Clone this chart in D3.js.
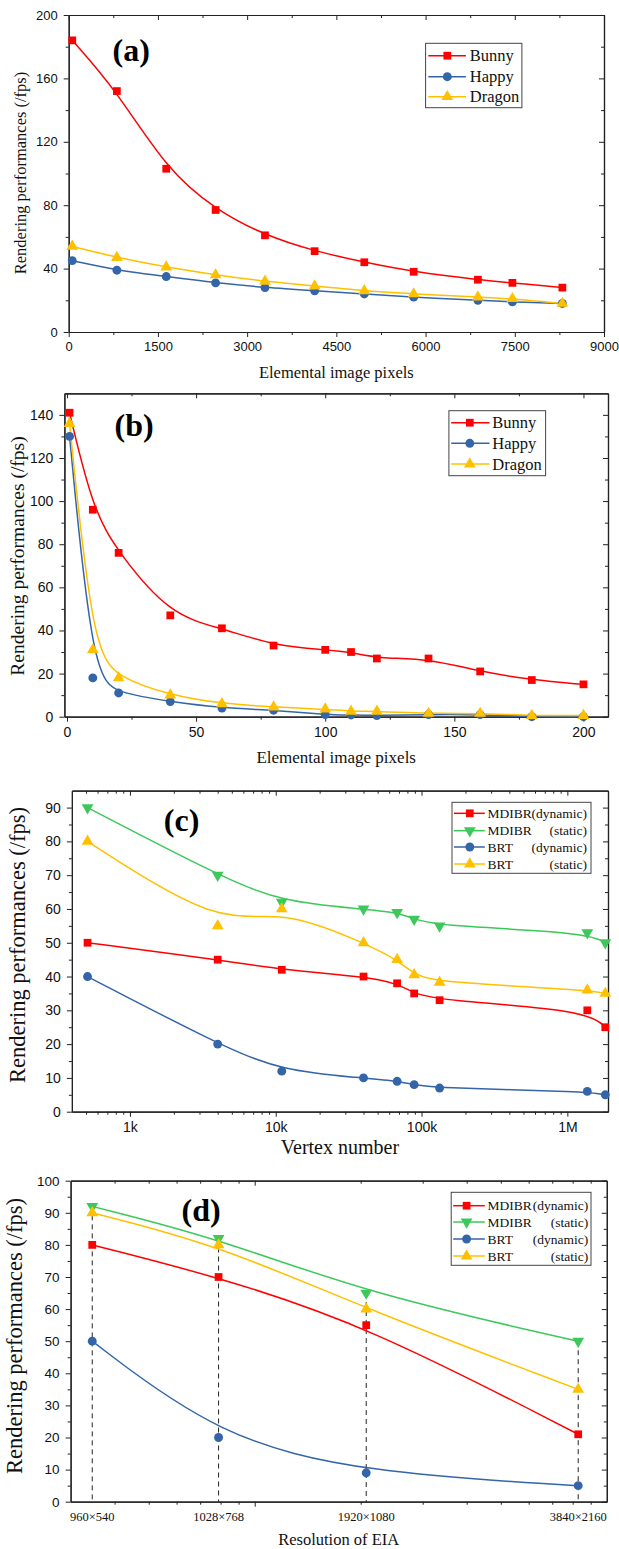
<!DOCTYPE html>
<html>
<head>
<meta charset="utf-8">
<script src="https://cdn.jsdelivr.net/npm/d3@7"></script>
<style>
  body { margin: 0; background: #fff; }
  svg { display: block; }
</style>
</head>
<body>
<svg id="chart" width="619" height="1549"></svg>
<script>
// ---------- data ----------
// (a) elemental image pixels
const pixelsA = [60, 810, 1640, 2470, 3300, 4135, 4970, 5800, 6880, 7460, 8300];
const bunnyA  = [184, 152, 103, 77, 61, 51, 44, 38, 33, 31, 28];
const happyA  = [45, 39, 35, 31, 28, 26, 24, 22, 20, 19, 18];
const dragonA = [54, 47, 41, 36, 32, 29, 26, 24, 22, 21, 18];

// (b) elemental image pixels
const pixelsB = [1, 10, 20, 40, 60, 80, 100, 110, 120, 140, 160, 180, 200];
const bunnyB  = [141, 96, 76, 47, 41, 33, 31, 30, 27, 27, 21, 17, 15];
const happyB  = [130, 18, 11, 7, 4, 3, 1, 0.8, 0.5, 1, 1, 0, 0];
const dragonB = [136, 31, 18, 10, 6, 4.5, 3.5, 2.5, 2.5, 1.5, 1.5, 0.5, 0.5];

// (c) vertex number
const vertexC       = [512, 4000, 11000, 40000, 68000, 89000, 133000, 1370000, 1820000];
const mdibrDynC     = [50, 45, 42, 40, 38, 35, 33, 30, 25];
const mdibrStaticC  = [90, 70, 62, 60, 59, 57, 55, 53, 50];
const brtDynC       = [40, 20, 12, 10, 9, 8, 7, 6, 5];
const brtStaticC    = [80, 55, 60, 50, 45, 40.5, 38.3, 36, 35];

// (d) resolution of EIA (pixel count)
const resPixelsD    = [345600, 789504, 2073600, 8294400];
const resLabelsD    = ["960×540", "1028×768", "1920×1080", "3840×2160"];
const mdibrDynD     = [80, 70, 55, 21];
const mdibrStaticD  = [92, 82, 65, 50];
const brtDynD       = [50, 20, 9, 5];
const brtStaticD    = [90, 80, 60, 35];

const modelNames  = ["Bunny", "Happy", "Dragon"];
const methodNames = [["MDIBR", "(dynamic)"], ["MDIBR", "(static)"], ["BRT", "(dynamic)"], ["BRT", "(static)"]];

const COLORS = { red: "#ff0000", blue: "#3465a8", yellow: "#ffc000", green: "#3cc85a" };
const SERIF = "'Liberation Serif','Times New Roman',serif";
const SANS = "'Liberation Sans',Arial,sans-serif";

const svg = d3.select("#chart");

const triDown = {
  draw(ctx, size) {
    const s = Math.sqrt(size / 0.433), h = s * Math.sqrt(3) / 2;
    ctx.moveTo(-s / 2, -h / 3);
    ctx.lineTo(s / 2, -h / 3);
    ctx.lineTo(0, 2 * h / 3);
    ctx.closePath();
  }
};
const SYMBOLS = {
  square: [d3.symbolSquare, 60],
  circle: [d3.symbolCircle, 62],
  up: [d3.symbolTriangle, 60],
  down: [triDown, 60]
};

function logMinor(lo, hi) {
  const out = [];
  for (let e = Math.floor(Math.log10(lo)); e <= Math.ceil(Math.log10(hi)); e++) {
    for (let k = 2; k <= 9; k++) {
      const v = k * Math.pow(10, e);
      if (v > lo * 1.01 && v < hi * 0.99) out.push(v);
    }
  }
  return out;
}

function drawPanel(p) {
  const g = svg.append("g");
  const x = p.x.range([p.l, p.r]);
  const y = d3.scaleLinear().domain(p.yDomain).range([p.b, p.t]);

  const addAxis = (fn, scale, vals, size, fmt, tr, pad) => {
    const a = fn(scale).tickValues(vals).tickSizeInner(size).tickSizeOuter(0)
      .tickPadding(pad || 3).tickFormat(fmt || "");
    const ag = g.append("g").attr("transform", tr).call(a);
    ag.selectAll("path.domain").attr("stroke", "#222").attr("stroke-width", 1.2);
    ag.selectAll(".tick line").attr("stroke", "#222").attr("stroke-width", 1);
    ag.selectAll("text").attr("font-family", SANS).attr("font-size", p.tickFont).attr("fill", "#111");
    return ag;
  };

  // bottom / top
  addAxis(d3.axisBottom, x, p.xMajor, 5, p.xFmt, `translate(0,${p.b})`, 5);
  addAxis(d3.axisBottom, x, p.xMinor, 3, null, `translate(0,${p.b})`);
  addAxis(d3.axisTop, x, p.xMajor, -5, null, `translate(0,${p.t})`);
  addAxis(d3.axisTop, x, p.xMinor, -3, null, `translate(0,${p.t})`);
  // left / right
  addAxis(d3.axisLeft, y, p.yMajor, 5, d3.format("d"), `translate(${p.l},0)`, 6);
  addAxis(d3.axisLeft, y, p.yMinor, 3, null, `translate(${p.l},0)`);
  addAxis(d3.axisRight, y, p.yMajor, -5, null, `translate(${p.r},0)`);
  addAxis(d3.axisRight, y, p.yMinor, -3, null, `translate(${p.r},0)`);

  // custom category labels
  if (p.xLabels) {
    g.selectAll("text.cat").data(p.xs).enter().append("text")
      .attr("x", d => x(d)).attr("y", p.b + 19)
      .attr("text-anchor", "middle")
      .attr("font-family", SERIF).attr("font-size", 12.5).attr("fill", "#111")
      .text((d, i) => p.xLabels[i]);
  }

  // dashed guides
  if (p.guides) {
    p.xs.forEach((xv, i) => {
      const top = d3.max(p.series, s => s.values[i]);
      g.append("line")
        .attr("x1", x(xv)).attr("x2", x(xv))
        .attr("y1", y(top)).attr("y2", y(0))
        .attr("stroke", "#222").attr("stroke-width", 1).attr("stroke-dasharray", "5,4");
    });
  }

  const line = d3.line().x(d => x(d[0])).y(d => y(d[1])).curve(d3.curveBasis);
  p.series.forEach(s => {
    const pts = p.xs.map((xv, i) => [xv, s.values[i]]);
    g.append("path").attr("d", line(pts)).attr("fill", "none")
      .attr("stroke", s.color).attr("stroke-width", 1.5);
  });
  p.series.forEach(s => {
    const [type, size] = SYMBOLS[s.symbol];
    const sym = d3.symbol().type(type).size(size);
    g.selectAll(null).data(p.xs.map((xv, i) => [xv, s.values[i]])).enter().append("path")
      .attr("transform", d => `translate(${x(d[0])},${y(d[1])})`)
      .attr("d", sym).attr("fill", s.color);
  });

  // panel label
  g.append("text").attr("x", p.tag[1]).attr("y", p.tag[2])
    .attr("font-family", SERIF).attr("font-weight", "bold").attr("font-size", 32)
    .text(p.tag[0]);

  // axis titles
  g.append("text").attr("x", (p.l + p.r) / 2).attr("y", p.xTitle[1])
    .attr("text-anchor", "middle").attr("font-family", SERIF).attr("font-size", p.xTitle[2])
    .attr("fill", "#111").text(p.xTitle[0]);
  g.append("text")
    .attr("transform", `translate(${p.yTitle[1]},${p.yTitle[2]}) rotate(-90)`)
    .attr("text-anchor", "middle").attr("font-family", SERIF).attr("font-size", p.yTitle[3])
    .attr("fill", "#111").text(p.yTitle[0]);

  // legend
  const L = p.legend;
  const lg = g.append("g");
  lg.append("rect").attr("x", L.box[0]).attr("y", L.box[1])
    .attr("width", L.box[2] - L.box[0]).attr("height", L.box[3] - L.box[1])
    .attr("fill", "#fff").attr("stroke", "#444").attr("stroke-width", 1);
  p.series.forEach((s, i) => {
    const yy = L.rows[i];
    lg.append("line").attr("x1", L.line[0]).attr("x2", L.line[1]).attr("y1", yy).attr("y2", yy)
      .attr("stroke", s.color).attr("stroke-width", 1.5);
    const [type, size] = SYMBOLS[s.symbol];
    lg.append("path").attr("transform", `translate(${L.marker},${yy})`)
      .attr("d", d3.symbol().type(type).size(size)).attr("fill", s.color);
    const lbl = Array.isArray(s.name) ? s.name : [s.name];
    lg.append("text").attr("x", L.text).attr("y", yy).attr("dy", "0.35em")
      .attr("font-family", SERIF).attr("font-size", L.font).attr("fill", "#111").text(lbl[0]);
    if (lbl[1]) {
      lg.append("text").attr("x", L.textEnd).attr("y", yy).attr("dy", "0.35em")
        .attr("text-anchor", "end")
        .attr("font-family", SERIF).attr("font-size", L.font).attr("fill", "#111").text(lbl[1]);
    }
  });
}

// ---------- panel (a) ----------
drawPanel({
  l: 68.7, r: 604, t: 15, b: 332,
  x: d3.scaleLinear().domain([0, 9000]),
  xMajor: d3.range(0, 9001, 1500), xMinor: d3.range(750, 9000, 1500), xFmt: d3.format("d"),
  yDomain: [0, 200], yMajor: d3.range(0, 201, 40), yMinor: d3.range(20, 200, 40),
  tickFont: 13,
  xs: pixelsA,
  series: [
    { name: modelNames[0], values: bunnyA, color: COLORS.red, symbol: "square" },
    { name: modelNames[1], values: happyA, color: COLORS.blue, symbol: "circle" },
    { name: modelNames[2], values: dragonA, color: COLORS.yellow, symbol: "up" }
  ],
  tag: ["(a)", 112.5, 61],
  xTitle: ["Elemental image pixels", 378, 16.5],
  yTitle: ["Rendering performances (/fps)", 26, 173, 16.5],
  legend: { box: [425.6, 43.3, 521.9, 107.7], rows: [55.7, 76.7, 96.7],
            line: [428.3, 465.9], marker: 447.3, text: 469.8, font: 16.5 }
});

// ---------- panel (b) ----------
drawPanel({
  l: 64.4, r: 608, t: 393.3, b: 716.7,
  x: d3.scaleLinear().domain([-1, 209.5]),
  xMajor: d3.range(0, 201, 50), xMinor: d3.range(25, 209, 50), xFmt: d3.format("d"),
  yDomain: [0, 150], yMajor: d3.range(0, 141, 20), yMinor: d3.range(10, 150, 20),
  tickFont: 14,
  xs: pixelsB,
  series: [
    { name: modelNames[0], values: bunnyB, color: COLORS.red, symbol: "square" },
    { name: modelNames[1], values: happyB, color: COLORS.blue, symbol: "circle" },
    { name: modelNames[2], values: dragonB, color: COLORS.yellow, symbol: "up" }
  ],
  tag: ["(b)", 114.5, 435.5],
  xTitle: ["Elemental image pixels", 763, 17],
  yTitle: ["Rendering performances (/fps)", 23.5, 556, 19.5],
  legend: { box: [448.9, 410.7, 545.6, 475.7], rows: [422.7, 443.3, 464],
            line: [451.2, 489.5], marker: 469.8, text: 492.3, font: 16.5 }
});

// ---------- panel (c) ----------
const cDomain = [400, 1.9e6];
drawPanel({
  l: 71.9, r: 608, t: 790.7, b: 1111.7,
  x: d3.scaleLog().domain(cDomain),
  xMajor: [1e3, 1e4, 1e5, 1e6], xMinor: logMinor(cDomain[0], cDomain[1]),
  xFmt: d => ({ 1000: "1k", 10000: "10k", 100000: "100k", 1000000: "1M" })[d],
  yDomain: [0, 95], yMajor: d3.range(0, 91, 10), yMinor: d3.range(5, 95, 10),
  tickFont: 14,
  xs: vertexC,
  series: [
    { name: methodNames[0], values: mdibrDynC, color: COLORS.red, symbol: "square" },
    { name: methodNames[1], values: mdibrStaticC, color: COLORS.green, symbol: "down" },
    { name: methodNames[2], values: brtDynC, color: COLORS.blue, symbol: "circle" },
    { name: methodNames[3], values: brtStaticC, color: COLORS.yellow, symbol: "up" }
  ],
  tag: ["(c)", 163.8, 831],
  xTitle: ["Vertex number", 1154, 20],
  yTitle: ["Rendering performances (/fps)", 24.5, 945, 22.5],
  legend: { box: [452, 802.3, 591, 873.3], rows: [813.3, 830.7, 847, 864],
            line: [454, 484.8], marker: 469.8, text: 487.6, textEnd: 587, font: 13.5 }
});

// ---------- panel (d) ----------
const dDomain = [3e5, 1e7];
drawPanel({
  l: 70.6, r: 606.8, t: 1180.7, b: 1501.7,
  x: d3.scaleLog().domain(dDomain),
  xMajor: [1e6], xMinor: logMinor(dDomain[0], dDomain[1]), xFmt: () => "",
  xLabels: resLabelsD, guides: true,
  yDomain: [0, 100], yMajor: d3.range(0, 101, 10), yMinor: d3.range(5, 100, 10),
  tickFont: 13.5,
  xs: resPixelsD,
  series: [
    { name: methodNames[0], values: mdibrDynD, color: COLORS.red, symbol: "square" },
    { name: methodNames[1], values: mdibrStaticD, color: COLORS.green, symbol: "down" },
    { name: methodNames[2], values: brtDynD, color: COLORS.blue, symbol: "circle" },
    { name: methodNames[3], values: brtStaticD, color: COLORS.yellow, symbol: "up" }
  ],
  tag: ["(d)", 181.6, 1221],
  xTitle: ["Resolution of EIA", 1545, 16.5],
  yTitle: ["Rendering performances (/fps)", 22, 1336, 22.5],
  legend: { box: [451.2, 1192.3, 591, 1265.3], rows: [1205.7, 1222, 1239, 1256],
            line: [453.2, 484.8], marker: 466.6, text: 487.6, textEnd: 588.2, font: 13.5 }
});
</script>
</body>
</html>
